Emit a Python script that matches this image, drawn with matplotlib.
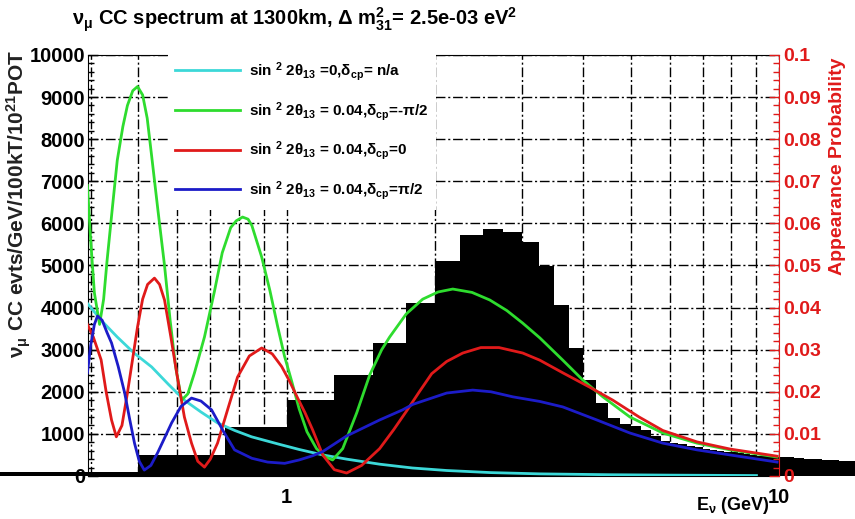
import numpy as np
import matplotlib
matplotlib.use("Agg")
import matplotlib.pyplot as plt
from matplotlib.ticker import MultipleLocator, FuncFormatter, NullFormatter, LogLocator

plt.rcParams['font.family'] = ['Liberation Sans', 'DejaVu Sans']
plt.rcParams['font.weight'] = 'bold'
plt.rcParams['mathtext.fontset'] = 'custom'
plt.rcParams['mathtext.rm'] = 'Liberation Sans:bold'
plt.rcParams['mathtext.it'] = 'Liberation Sans:bold:italic'
plt.rcParams['mathtext.bf'] = 'Liberation Sans:bold'

# histogram: nu_mu CC events per 0.25 GeV bin, starting at 0.25 GeV
bin_lo = 0.25
bin_w = 0.25
counts = [100, 500, 1160, 1800, 2400, 3160, 4120, 5100, 5720, 5870,
          5790, 5550, 4990, 4060, 3040, 2280, 1730, 1380, 1240, 1180,
          1090, 960, 830, 790, 750, 710, 680, 650, 620, 600,
          580, 560, 540, 520, 500, 480, 465, 450, 440, 450,
          445, 440, 430, 425, 415, 410, 400, 395, 390, 385,
          375, 370, 365, 360, 355, 350]

# appearance probability curves (E in GeV, P)
E_cyan = [0.394, 0.42, 0.453, 0.49, 0.532, 0.575, 0.62, 0.67, 0.724, 0.785,
          0.849, 0.968, 1.06, 1.184, 1.324, 1.545, 1.8, 2.114, 2.6, 3.268,
          4.5, 6.0, 9.0]
P_cyan = [0.041, 0.037, 0.033, 0.0292, 0.0259, 0.0218, 0.018, 0.0152, 0.0126, 0.0108,
          0.0093, 0.0075, 0.0063, 0.005, 0.004, 0.0028, 0.0019, 0.0013, 0.0008, 0.0005,
          0.0003, 0.0002, 0.0001]

E_green = [0.394, 0.4, 0.407, 0.417, 0.425, 0.432, 0.443, 0.453, 0.465, 0.475,
           0.487, 0.498, 0.51, 0.521, 0.532, 0.548, 0.565, 0.58, 0.595, 0.612,
           0.63, 0.65, 0.681, 0.714, 0.74, 0.77, 0.79, 0.814, 0.835, 0.85,
           0.89, 0.925, 0.959, 0.99, 1.024, 1.06, 1.1, 1.15, 1.2, 1.24,
           1.3, 1.388, 1.475, 1.56, 1.619, 1.75, 1.89, 2.03, 2.175, 2.38,
           2.586, 2.8, 3.017, 3.268, 3.639, 3.995, 4.388, 4.981, 5.809, 6.813,
           7.951, 9.91]
P_green = [0.069, 0.056, 0.0435, 0.036, 0.042, 0.0513, 0.064, 0.075, 0.083, 0.088,
           0.0915, 0.0925, 0.0905, 0.085, 0.076, 0.063, 0.05, 0.037, 0.026, 0.018,
           0.0195, 0.0245, 0.033, 0.044, 0.053, 0.059, 0.0606, 0.0615, 0.061, 0.0595,
           0.052, 0.044, 0.0355, 0.0285, 0.0225, 0.016, 0.0105, 0.0065, 0.0045, 0.0038,
           0.0065, 0.015, 0.024, 0.03, 0.033, 0.0385, 0.042, 0.0437, 0.0444, 0.0436,
           0.0418, 0.0393, 0.0363, 0.0328, 0.0275, 0.0228, 0.0188, 0.014, 0.0102, 0.0078,
           0.0062, 0.0045]

E_red = [0.394, 0.405, 0.42, 0.43, 0.441, 0.451, 0.463, 0.475, 0.487, 0.498,
         0.51, 0.522, 0.539, 0.552, 0.565, 0.582, 0.6, 0.62, 0.641, 0.66,
         0.681, 0.7, 0.724, 0.76, 0.795, 0.84, 0.89, 0.935, 0.977, 1.014,
         1.053, 1.09, 1.129, 1.184, 1.25, 1.324, 1.42, 1.545, 1.65, 1.754,
         1.86, 1.971, 2.114, 2.279, 2.48, 2.7, 3.017, 3.268, 3.639, 4.14,
         4.598, 5.2, 5.809, 6.813, 7.951, 9.91]
P_red = [0.036, 0.033, 0.0276, 0.02, 0.0133, 0.0093, 0.012, 0.0197, 0.028, 0.0354,
         0.042, 0.0455, 0.047, 0.0455, 0.0418, 0.033, 0.0235, 0.014, 0.0078, 0.0035,
         0.0021, 0.004, 0.0078, 0.016, 0.0235, 0.0285, 0.0304, 0.029, 0.026, 0.0225,
         0.0185, 0.015, 0.011, 0.005, 0.0015, 0.0007, 0.0025, 0.0065, 0.011, 0.0155,
         0.02, 0.0243, 0.0272, 0.0292, 0.0305, 0.0305, 0.0292, 0.0275, 0.0245, 0.021,
         0.018, 0.014, 0.0108, 0.0081, 0.0064, 0.0047]

E_blue = [0.394, 0.4, 0.407, 0.413, 0.422, 0.432, 0.441, 0.455, 0.469, 0.48,
          0.491, 0.502, 0.514, 0.53, 0.547, 0.565, 0.584, 0.61, 0.641, 0.67,
          0.704, 0.745, 0.784, 0.85, 0.915, 0.991, 1.06, 1.129, 1.184, 1.324,
          1.545, 1.72, 1.804, 2.114, 2.388, 2.6, 2.88, 3.268, 3.639, 4.267,
          4.981, 5.809, 6.813, 7.951, 9.91]
P_blue = [0.0245, 0.031, 0.036, 0.038, 0.037, 0.034, 0.0316, 0.026, 0.0197, 0.0135,
          0.0078, 0.0035, 0.0014, 0.0025, 0.0055, 0.009, 0.0126, 0.0165, 0.0185, 0.0178,
          0.0157, 0.0105, 0.0062, 0.0042, 0.0033, 0.003, 0.0038, 0.0048, 0.0058, 0.0095,
          0.0133, 0.0157, 0.017, 0.0197, 0.0204, 0.02, 0.0188, 0.0177, 0.0164, 0.0133,
          0.0102, 0.0078, 0.0062, 0.005, 0.0033]

labels = [r"sin $^\mathregular{2}$ 2θ$_\mathregular{13}$ =0,δ$_\mathregular{cp}$= n/a",
          r"sin $^\mathregular{2}$ 2θ$_\mathregular{13}$ = 0.04,δ$_\mathregular{cp}$=-π/2",
          r"sin $^\mathregular{2}$ 2θ$_\mathregular{13}$ = 0.04,δ$_\mathregular{cp}$=0",
          r"sin $^\mathregular{2}$ 2θ$_\mathregular{13}$ = 0.04,δ$_\mathregular{cp}$=π/2"]

RED = '#e01a1a'

fig = plt.figure(figsize=(8.55, 5.19), dpi=100)
ax = fig.add_axes([0.1029, 0.0829, 0.8082, 0.8112])

edges = bin_lo + bin_w * np.arange(len(counts) + 1)
ax.stairs(counts, edges, fill=True, color='black', clip_on=False, zorder=2)

ax.set_xscale('log')
ax.set_xlim(0.395, 10)
ax.set_ylim(0, 10000)
ax.set_axisbelow(True)

ax.xaxis.set_major_locator(LogLocator(base=10))
ax.xaxis.set_minor_locator(LogLocator(base=10, subs=np.arange(2, 10)))
ax.xaxis.set_major_formatter(FuncFormatter(lambda v, p: '%g' % v))
ax.xaxis.set_minor_formatter(NullFormatter())
ax.tick_params(axis='x', which='both', length=0, pad=9, labelsize=14.5)

ax.yaxis.set_major_locator(MultipleLocator(1000))
ax.yaxis.set_minor_locator(MultipleLocator(200))
ax.tick_params(axis='y', which='major', direction='in', length=7, width=1, pad=2, labelsize=14.5)
ax.tick_params(axis='y', which='minor', direction='in', length=4, width=1)

gs = dict(color='black', linewidth=1, linestyle=(0, (7, 2, 1.5, 2)))
ax.grid(True, which='major', axis='y', **gs)
ax.grid(True, which='both', axis='x', **gs)
ax.spines['right'].set_visible(False)

ax2 = ax.twinx()
ax2.set_ylim(0, 0.1)
h1, = ax2.plot(E_cyan, P_cyan, color='#3cd8d8', lw=2)
h2, = ax2.plot(E_green, P_green, color='#2edc2e', lw=2)
h3, = ax2.plot(E_red, P_red, color=RED, lw=2)
h4, = ax2.plot(E_blue, P_blue, color='#1c1cc8', lw=2)

ax2.yaxis.set_major_locator(MultipleLocator(0.01))
ax2.yaxis.set_minor_locator(MultipleLocator(0.002))
ax2.yaxis.set_major_formatter(FuncFormatter(lambda v, p: '%g' % round(v, 3)))
ax2.tick_params(axis='y', which='major', direction='in', length=7, width=1, pad=3,
                labelsize=14, colors=RED)
ax2.tick_params(axis='y', which='minor', direction='in', length=4, width=1, colors=RED)
for s in ['left', 'top', 'bottom']:
    ax2.spines[s].set_visible(False)
ax2.spines['right'].set_color(RED)

leg = ax2.legend([h1, h2, h3, h4], labels, loc='upper left',
                 bbox_to_anchor=(0.1155, 1.006), borderaxespad=0, fontsize=11,
                 handlelength=4.2, handletextpad=0.6, labelspacing=1.1,
                 borderpad=0.5, frameon=True, fancybox=False)
leg.get_frame().set_facecolor('white')
leg.get_frame().set_edgecolor('none')
leg.get_frame().set_alpha(1)

fig.text(0.344, 0.962, r"ν$_\mathregular{μ}$ CC spectrum at 1300km, Δ m$^\mathregular{2}_\mathregular{31}$= 2.5e-03 eV$^\mathregular{2}$",
         ha='center', va='center', fontsize=14.5)
ax.text(-0.1, 1.012, r"ν$_\mathregular{μ}$ CC evts/GeV/100kT/10$^\mathregular{21}$POT",
        transform=ax.transAxes, rotation=90, ha='center', va='top', fontsize=15, color='#222222')
ax2.text(1.085, 0.995, "Appearance Probability", transform=ax2.transAxes,
         rotation=90, ha='center', va='top', fontsize=14, color=RED)
ax.text(0.987, -0.07, r"E$_\mathregular{ν}$ (GeV)", transform=ax.transAxes,
        ha='right', va='center', fontsize=13)

fig.savefig('out.png', dpi=100)
